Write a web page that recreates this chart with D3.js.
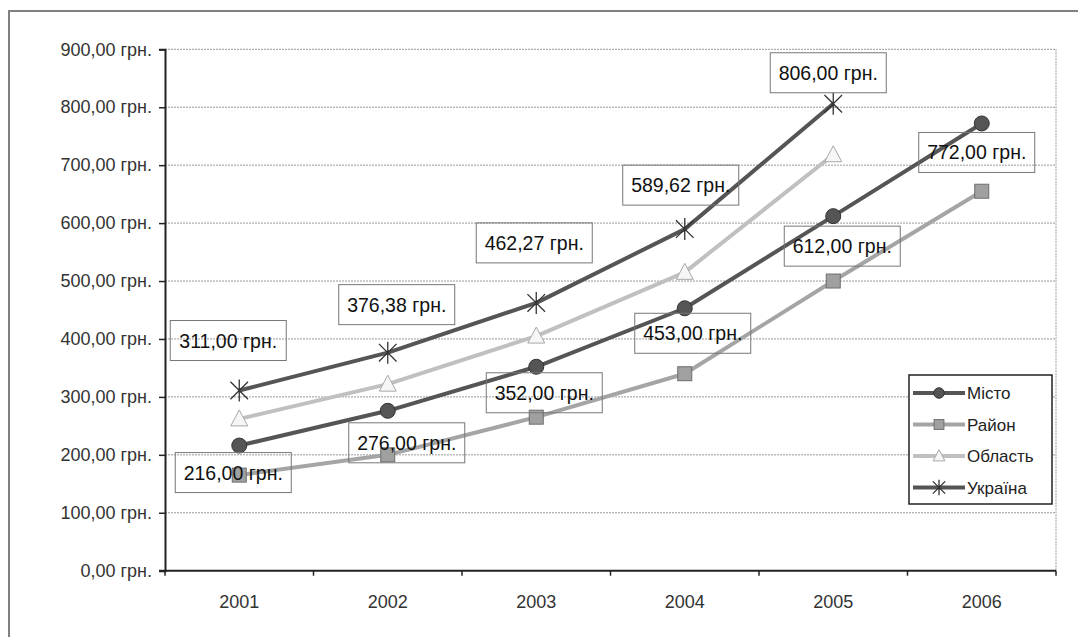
<!DOCTYPE html>
<html>
<head>
<meta charset="utf-8">
<script src="https://cdn.jsdelivr.net/npm/d3@7"></script>
<style>
  html, body { margin: 0; padding: 0; background: #fff; }
  svg { display: block; font-family: "Liberation Sans", Arial, sans-serif; }
</style>
</head>
<body>
<svg id="chart" width="1078" height="637"></svg>
<script>
// Categories and series values (грн.)
const years = ["2001", "2002", "2003", "2004", "2005", "2006"];
const misto   = [216, 276, 352, 453, 612, 772];
const raion   = [165, 200, 265, 340, 500, 655];
const oblast  = [262, 322, 405, 515, 718];
const ukraina = [311, 376.38, 462.27, 589.62, 806];
const yTicks  = [0, 100, 200, 300, 400, 500, 600, 700, 800, 900];

// Offsets of the value boxes from their points
const mistoLabelShift   = [[-6, 27], [19, 32], [8, 26], [8, 25], [9, 30], [-5, 29]];
const ukrainaLabelShift = [[-11, -50], [9, -48], [-2, -60], [-4, -44], [-5, -31]];

const series = [
  { name: "Місто",   values: misto,   color: "#555", marker: "circle" },
  { name: "Район",   values: raion,   color: "#a5a5a5", marker: "square" },
  { name: "Область", values: oblast,  color: "#c0c0c0", marker: "triangle" },
  { name: "Україна", values: ukraina, color: "#555", marker: "star" }
];

const svg = d3.select("#chart");
const plotLeft = 165, plotRight = 1056, plotTop = 49.3, plotBottom = 570.7;

const x = d3.scaleBand().domain(years).range([plotLeft, plotRight]).paddingInner(0).paddingOuter(0);
const cx = d => x(d) + x.bandwidth() / 2;
const y = d3.scaleLinear().domain([0, 900]).range([plotBottom, plotTop]);

const fmt = v => v.toFixed(2).replace(".", ",") + " грн.";

// outer frame
svg.append("rect").attr("x", 9).attr("y", 11).attr("width", 1100).attr("height", 700)
  .attr("fill", "none").attr("stroke", "#808080").attr("stroke-width", 2);

// gridlines
svg.append("g").selectAll("line").data(yTicks.filter(t => t > 0)).join("line")
  .attr("x1", plotLeft).attr("x2", plotRight)
  .attr("y1", d => y(d)).attr("y2", d => y(d))
  .attr("stroke", "#999").attr("stroke-width", 1).attr("stroke-dasharray", "2,1");
svg.append("line").attr("x1", plotRight).attr("x2", plotRight).attr("y1", plotTop).attr("y2", plotBottom)
  .attr("stroke", "#999").attr("stroke-width", 1).attr("stroke-dasharray", "2,1");

// y axis
const yAxis = d3.axisLeft(y).tickValues(yTicks).tickFormat(fmt).tickSize(6).tickPadding(7);
const gy = svg.append("g").attr("transform", `translate(${plotLeft},0)`).call(yAxis);
gy.select(".domain").attr("stroke", "#222").attr("stroke-width", 2);
gy.selectAll(".tick line").attr("stroke", "#222").attr("stroke-width", 1.5);
gy.selectAll(".tick text").attr("font-size", 18).attr("fill", "#333")
  .attr("font-family", "'Liberation Sans', Arial, sans-serif");

// x axis: ticks between categories
const gx = svg.append("g").attr("transform", `translate(0,${plotBottom})`);
gx.append("line").attr("x1", plotLeft - 6).attr("x2", plotRight).attr("y1", 0).attr("y2", 0)
  .attr("stroke", "#222").attr("stroke-width", 2);
const edges = years.map(d => x(d)).concat([plotRight]);
gx.selectAll("line.tk").data(edges).join("line").attr("class", "tk")
  .attr("x1", d => d).attr("x2", d => d).attr("y1", 0).attr("y2", 5)
  .attr("stroke", "#222").attr("stroke-width", 1.5);
gx.selectAll("text").data(years).join("text")
  .attr("x", d => cx(d)).attr("y", 37).attr("text-anchor", "middle")
  .attr("font-size", 18).attr("fill", "#333").text(d => d);

// lines
const line = d3.line().x((v, i) => cx(years[i])).y(v => y(v));
svg.append("g").selectAll("path").data(series).join("path")
  .attr("d", s => line(s.values))
  .attr("fill", "none").attr("stroke", s => s.color).attr("stroke-width", 4)
  .attr("stroke-linejoin", "round");

// marker drawing
function drawMarker(g, type, px, py, k = 1) {
  if (type === "circle") {
    g.append("circle").attr("cx", px).attr("cy", py).attr("r", 7.5 * k)
      .attr("fill", "#555").attr("stroke", "#333").attr("stroke-width", 1);
  } else if (type === "square") {
    g.append("rect").attr("x", px - 7 * k).attr("y", py - 7 * k).attr("width", 14 * k).attr("height", 14 * k)
      .attr("fill", "#a0a0a0").attr("stroke", "#6e6e6e").attr("stroke-width", 1);
  } else if (type === "triangle") {
    g.append("path").attr("d", `M${px},${py - 9 * k}L${px + 8.5 * k},${py + 7 * k}L${px - 8.5 * k},${py + 7 * k}Z`)
      .attr("fill", "#f6f6f6").attr("stroke", "#a8a8a8").attr("stroke-width", 1);
  } else {
    const r = 11 * k;
    g.append("path")
      .attr("d", `M${px - r * 0.8},${py - r * 0.8}L${px + r * 0.8},${py + r * 0.8}` +
                 `M${px + r * 0.8},${py - r * 0.8}L${px - r * 0.8},${py + r * 0.8}` +
                 `M${px},${py - r}L${px},${py + r}`)
      .attr("fill", "none").attr("stroke", "#333").attr("stroke-width", 1.3);
  }
}

const gm = svg.append("g");
series.forEach(s => {
  s.values.forEach((v, i) => drawMarker(gm, s.marker, cx(years[i]), y(v)));
});

// value boxes
function drawLabels(values, shifts) {
  const g = svg.append("g");
  values.forEach((v, i) => {
    const px = cx(years[i]) + shifts[i][0];
    const py = y(v) + shifts[i][1];
    const w = 116, h = 40;
    g.append("rect").attr("x", px - w / 2).attr("y", py - h / 2).attr("width", w).attr("height", h)
      .attr("fill", "none").attr("stroke", "#777").attr("stroke-width", 1);
    g.append("text").attr("x", px).attr("y", py + 7).attr("text-anchor", "middle")
      .attr("font-size", 19.5).attr("fill", "#111").text(fmt(v));
  });
}
drawLabels(misto, mistoLabelShift);
drawLabels(ukraina, ukrainaLabelShift);

// legend
const lg = svg.append("g");
lg.append("rect").attr("x", 909).attr("y", 375).attr("width", 143).attr("height", 129)
  .attr("fill", "#fff").attr("stroke", "#222").attr("stroke-width", 1.5);
series.forEach((s, i) => {
  const ly = 393 + i * 31.5;
  lg.append("line").attr("x1", 913).attr("x2", 965).attr("y1", ly).attr("y2", ly)
    .attr("stroke", s.color).attr("stroke-width", 4);
  drawMarker(lg, s.marker, 939, ly, 0.7);
  lg.append("text").attr("x", 967).attr("y", ly + 6).attr("font-size", 17)
    .attr("fill", "#222").text(s.name);
});
</script>
</body>
</html>
